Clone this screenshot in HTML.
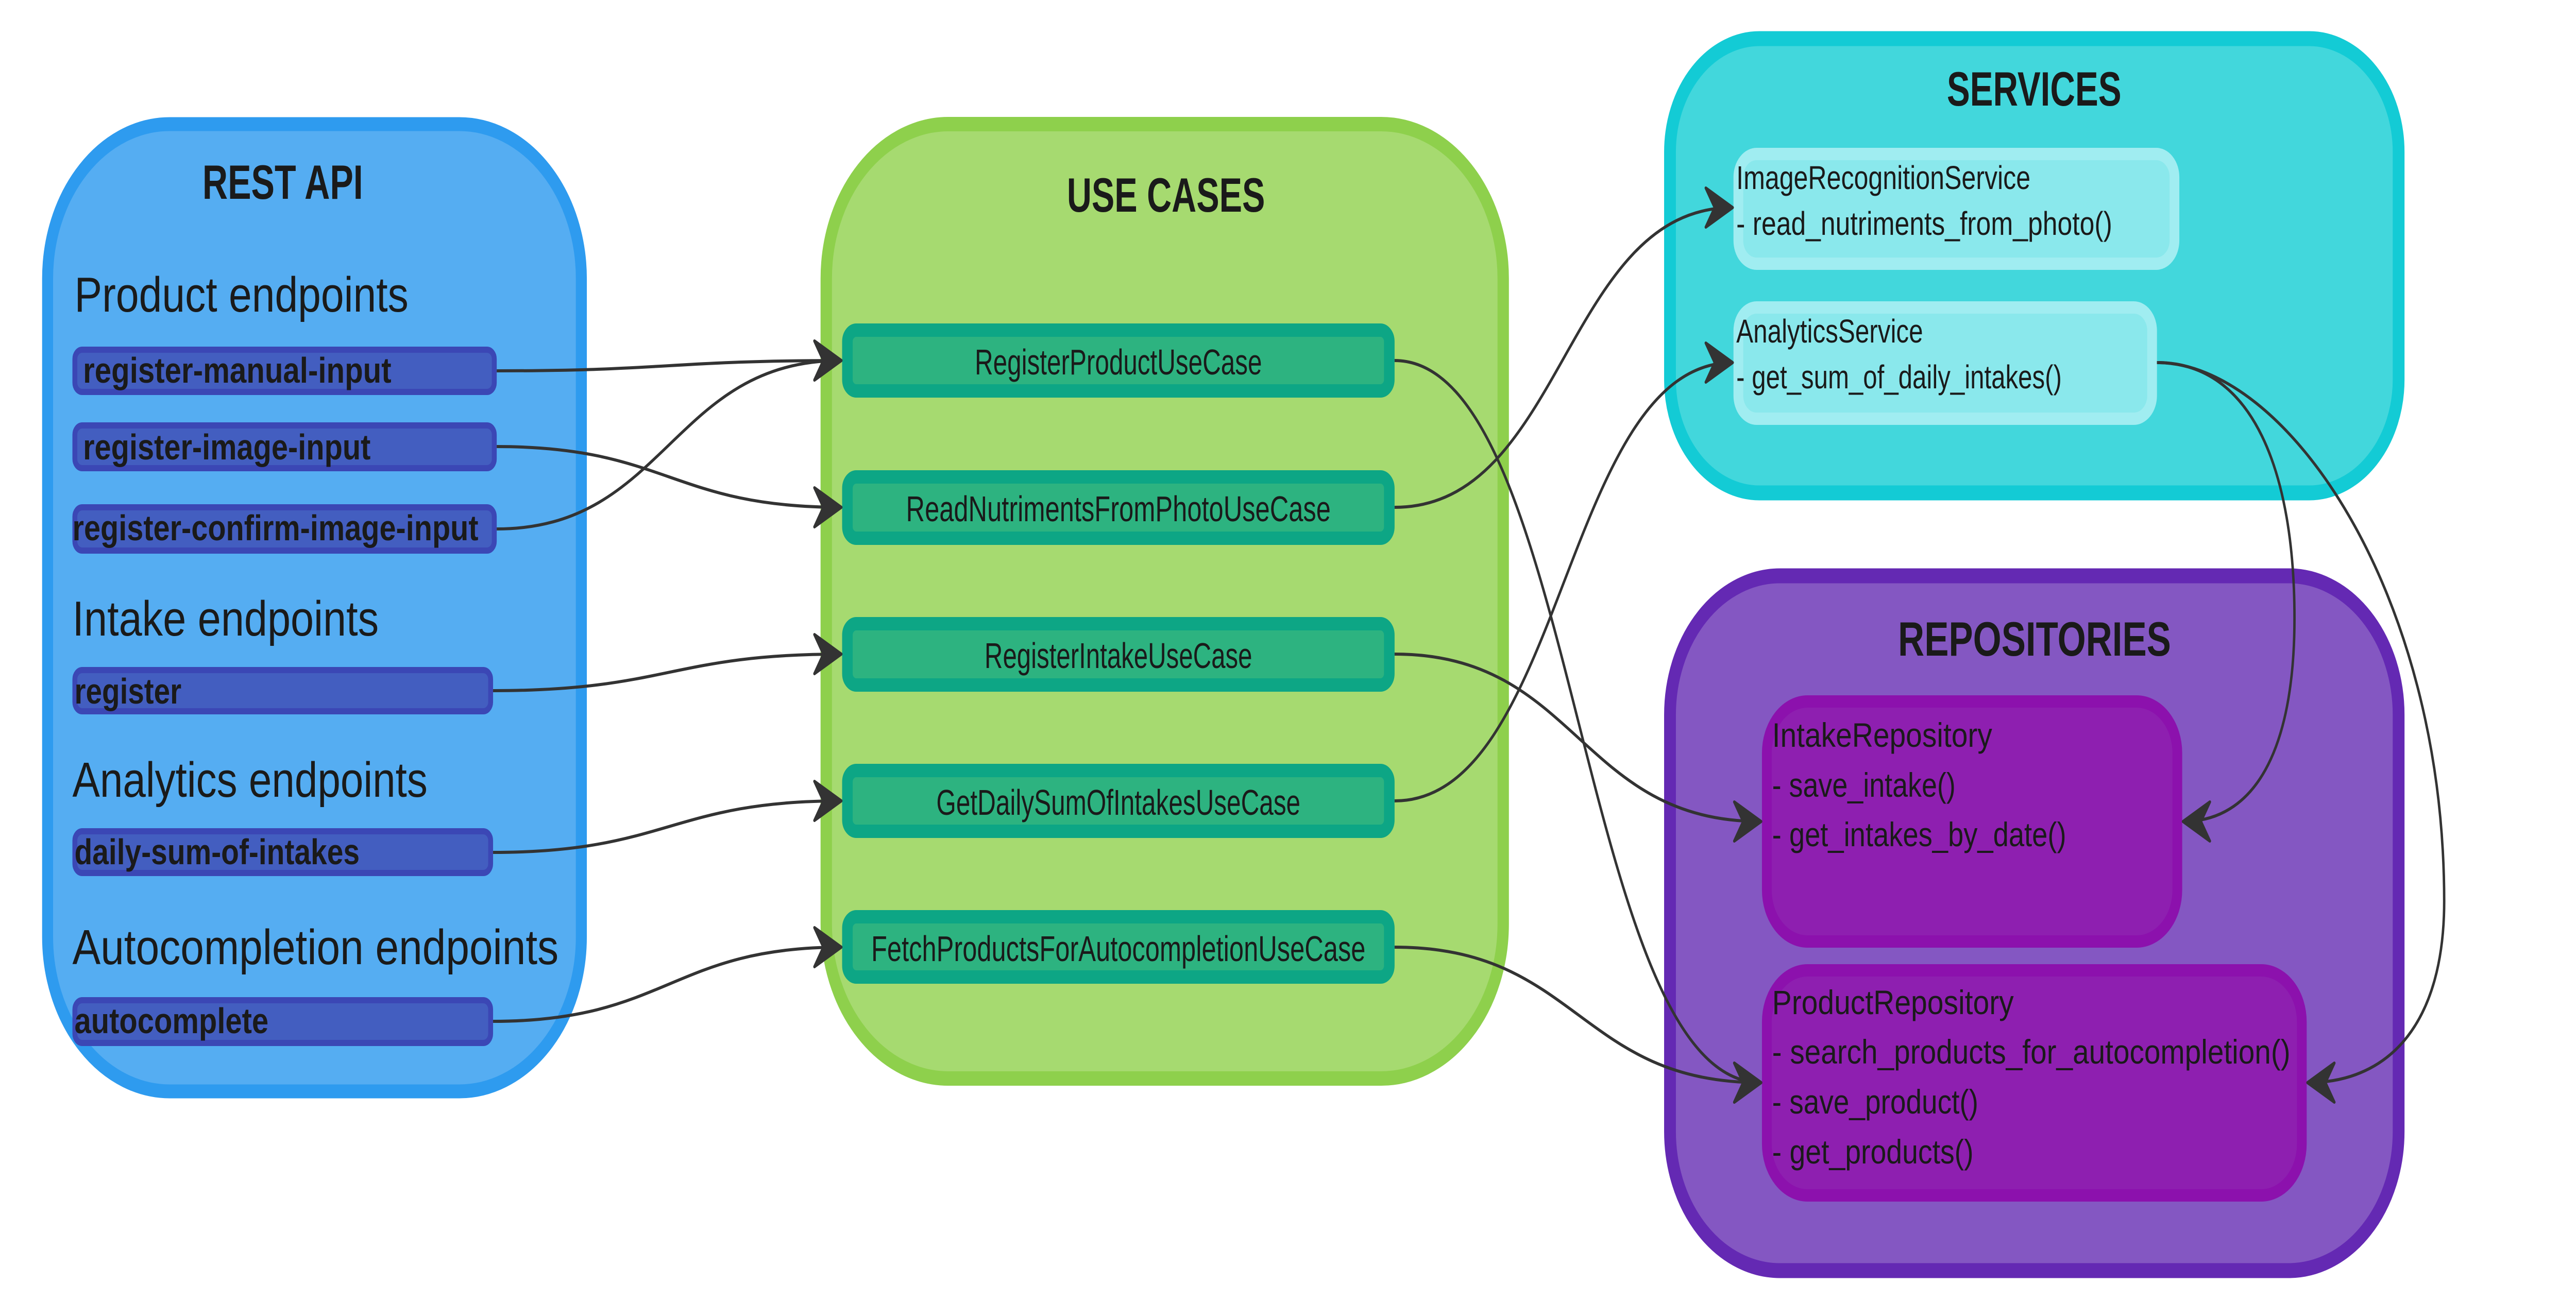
<!DOCTYPE html>
<html><head><meta charset="utf-8"><style>
html,body{margin:0;padding:0;background:#fff;overflow:hidden;width:100%;height:100%;}
svg{display:block;width:100vw;height:100vh;}
text{font-family:"Liberation Sans",sans-serif;fill:#1a1a1a;}
.t{font-weight:bold;}
</style></head><body>
<svg viewBox="0 0 6332 2526" preserveAspectRatio="none" xmlns="http://www.w3.org/2000/svg">
<defs>
<marker id="ah" markerUnits="userSpaceOnUse" viewBox="-70 -45 75 90" refX="0" refY="0" markerWidth="75" markerHeight="90" orient="auto">
<path d="M0,0 L-66,-38 L-44,0 L-66,38 Z" fill="#333" stroke="#333" stroke-width="6" stroke-linejoin="round"/>
</marker>
</defs>

<!-- REST API -->
<rect x="117" y="241" width="1312" height="1878" rx="300" fill="#55adf2" stroke="#2e9bef" stroke-width="27"/>
<text class="t" x="695" y="386" font-size="94" text-anchor="middle" textLength="395" lengthAdjust="spacingAndGlyphs">REST API</text>
<text x="183" y="605" font-size="96" textLength="821" lengthAdjust="spacingAndGlyphs">Product endpoints</text>
<g fill="#435ec0" stroke="#3b47b5" stroke-width="12">
<rect x="184" y="679" width="1031" height="82" rx="18"/>
<rect x="184" y="826" width="1031" height="83" rx="18"/>
<rect x="184" y="985" width="1031" height="84" rx="18"/>
<rect x="184" y="1301" width="1022" height="80" rx="18"/>
<rect x="184" y="1614" width="1022" height="81" rx="18"/>
<rect x="184" y="1942" width="1022" height="83" rx="18"/>
</g>
<g class="t" font-size="70" font-weight="bold">
<text x="204" y="743" textLength="758" lengthAdjust="spacingAndGlyphs">register-manual-input</text>
<text x="204" y="892" textLength="707" lengthAdjust="spacingAndGlyphs">register-image-input</text>
<text x="178" y="1049" textLength="998" lengthAdjust="spacingAndGlyphs">register-confirm-image-input</text>
<text x="183" y="1366" textLength="263" lengthAdjust="spacingAndGlyphs">register</text>
<text x="183" y="1678" textLength="701" lengthAdjust="spacingAndGlyphs">daily-sum-of-intakes</text>
<text x="183" y="2006" textLength="477" lengthAdjust="spacingAndGlyphs">autocomplete</text>
</g>
<text x="178" y="1234" font-size="96" textLength="753" lengthAdjust="spacingAndGlyphs">Intake endpoints</text>
<text x="178" y="1547" font-size="96" textLength="873" lengthAdjust="spacingAndGlyphs">Analytics endpoints</text>
<text x="178" y="1872" font-size="96" textLength="1195" lengthAdjust="spacingAndGlyphs">Autocompletion endpoints</text>

<!-- USE CASES -->
<rect x="2031" y="241" width="1664" height="1853" rx="300" fill="#a6da70" stroke="#8ed04c" stroke-width="28"/>
<text class="t" x="2866" y="411" font-size="94" text-anchor="middle" textLength="487" lengthAdjust="spacingAndGlyphs">USE CASES</text>
<g fill="#2db380" stroke="#0da685" stroke-width="26">
<rect x="2083" y="641" width="1332" height="118" rx="22"/>
<rect x="2083" y="926" width="1332" height="119" rx="22"/>
<rect x="2083" y="1211" width="1332" height="119" rx="22"/>
<rect x="2083" y="1496" width="1332" height="118" rx="22"/>
<rect x="2083" y="1780" width="1332" height="117" rx="22"/>
</g>
<g font-size="70" text-anchor="middle">
<text x="2749" y="727" textLength="706" lengthAdjust="spacingAndGlyphs">RegisterProductUseCase</text>
<text x="2749" y="1012" textLength="1044" lengthAdjust="spacingAndGlyphs">ReadNutrimentsFromPhotoUseCase</text>
<text x="2749" y="1297" textLength="658" lengthAdjust="spacingAndGlyphs">RegisterIntakeUseCase</text>
<text x="2749" y="1582" textLength="895" lengthAdjust="spacingAndGlyphs">GetDailySumOfIntakesUseCase</text>
<text x="2749" y="1866" textLength="1215" lengthAdjust="spacingAndGlyphs">FetchProductsForAutocompletionUseCase</text>
</g>

<!-- SERVICES -->
<rect x="4105" y="75" width="1791" height="882" rx="220" fill="#42d7dc" stroke="#13cbd5" stroke-width="29"/>
<text class="t" x="5000" y="205" font-size="94" text-anchor="middle" textLength="429" lengthAdjust="spacingAndGlyphs">SERVICES</text>
<g fill="#8ae8ec" stroke="#a0edf1" stroke-width="24">
<rect x="4273" y="299" width="1072" height="213" rx="45"/>
<rect x="4273" y="597" width="1017" height="216" rx="45"/>
</g>
<g font-size="64">
<text x="4268" y="367" textLength="723" lengthAdjust="spacingAndGlyphs">ImageRecognitionService</text>
<text x="4268" y="456" textLength="924" lengthAdjust="spacingAndGlyphs">- read_nutriments_from_photo()</text>
<text x="4268" y="665" textLength="459" lengthAdjust="spacingAndGlyphs">AnalyticsService</text>
<text x="4268" y="754" textLength="800" lengthAdjust="spacingAndGlyphs">- get_sum_of_daily_intakes()</text>
</g>

<!-- REPOSITORIES -->
<rect x="4105" y="1118" width="1791" height="1349" rx="270" fill="#8457c2" stroke="#6429b3" stroke-width="29"/>
<text class="t" x="5001" y="1273" font-size="94" text-anchor="middle" textLength="671" lengthAdjust="spacingAndGlyphs">REPOSITORIES</text>
<g fill="#8e1fb0" stroke="#8c11ad" stroke-width="24">
<rect x="4343" y="1362" width="1009" height="466" rx="100"/>
<rect x="4343" y="1884" width="1315" height="437" rx="100"/>
</g>
<g font-size="66">
<text x="4356" y="1450" textLength="541" lengthAdjust="spacingAndGlyphs">IntakeRepository</text>
<text x="4356" y="1547" textLength="451" lengthAdjust="spacingAndGlyphs">- save_intake()</text>
<text x="4356" y="1643" textLength="723" lengthAdjust="spacingAndGlyphs">- get_intakes_by_date()</text>
<text x="4356" y="1969" textLength="594" lengthAdjust="spacingAndGlyphs">ProductRepository</text>
<text x="4356" y="2065" textLength="1274" lengthAdjust="spacingAndGlyphs">- search_products_for_autocompletion()</text>
<text x="4356" y="2162" textLength="507" lengthAdjust="spacingAndGlyphs">- save_product()</text>
<text x="4356" y="2259" textLength="495" lengthAdjust="spacingAndGlyphs">- get_products()</text>
</g>

<!-- connectors -->
<g fill="none" stroke="#333" stroke-width="6" marker-end="url(#ah)">
<path d="M1221,720 C1640,720 1650,700 2068,700"/>
<path d="M1221,867 C1640,867 1650,985 2068,985"/>
<path d="M1221,1027 C1640,1027 1650,700 2068,700"/>
<path d="M1212,1341 C1640,1341 1650,1270 2068,1270"/>
<path d="M1212,1655 C1640,1655 1650,1555 2068,1555"/>
<path d="M1212,1983 C1640,1983 1650,1839 2068,1839"/>
<path d="M3428,700 C3880,700 3880,2102 4329,2102"/>
<path d="M3428,985 C3845,985 3845,403 4259,403"/>
<path d="M3428,1270 C3880,1270 3880,1595 4329,1595"/>
<path d="M3428,1555 C3845,1555 3845,704 4259,704"/>
<path d="M3428,1839 C3880,1839 3880,2102 4329,2102"/>
<path d="M5302,704 C5540,704 5640,920 5640,1200 C5640,1460 5540,1595 5366,1595"/>
<path d="M5302,704 C5620,704 6008,1150 6008,1750 C6008,1980 5880,2102 5672,2102"/>
</g>
</svg>
</body></html>
